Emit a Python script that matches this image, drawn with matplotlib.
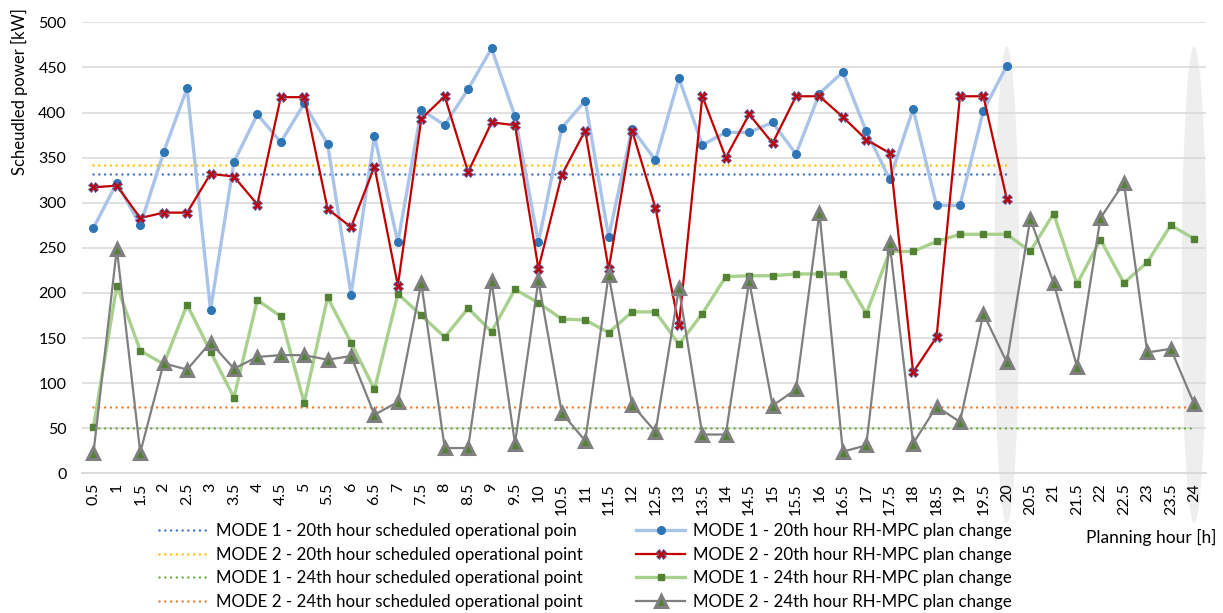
import matplotlib
matplotlib.use("Agg")
import matplotlib.pyplot as plt
from matplotlib.patches import Ellipse
import numpy as np

plt.rcParams['font.family'] = ['Lato', 'DejaVu Sans']

# planning hour categories
hours = ['0.5', '1', '1.5', '2', '2.5', '3', '3.5', '4', '4.5', '5', '5.5', '6',
         '6.5', '7', '7.5', '8', '8.5', '9', '9.5', '10', '10.5', '11', '11.5', '12',
         '12.5', '13', '13.5', '14', '14.5', '15', '15.5', '16', '16.5', '17', '17.5', '18',
         '18.5', '19', '19.5', '20', '20.5', '21', '21.5', '22', '22.5', '23', '23.5', '24']

# scheduled operational points (constant levels)
sched_m1_20 = 332
sched_m2_20 = 342
sched_m1_24 = 50
sched_m2_24 = 74

# RH-MPC plan changes
m1_20 = [272, 322, 275, 356, 427, 181, 345, 398, 367, 410, 365, 198,
         374, 256, 403, 386, 426, 471, 396, 256, 383, 413, 262, 382,
         347, 438, 364, 378, 378, 389, 354, 421, 445, 379, 326, 404,
         297, 297, 402, 452]
m2_20 = [317, 319, 283, 289, 289, 332, 329, 298, 417, 417, 293, 273,
         340, 208, 393, 418, 334, 389, 386, 227, 331, 380, 226, 380,
         294, 164, 418, 350, 398, 366, 418, 418, 395, 370, 355, 112,
         151, 418, 418, 304]
m1_24 = [51, 208, 136, 121, 187, 135, 84, 192, 174, 78, 195, 145,
         93, 199, 175, 151, 183, 157, 204, 189, 171, 170, 156, 179,
         179, 143, 177, 218, 219, 219, 221, 221, 221, 177, 246, 246,
         257, 265, 265, 265, 246, 288, 210, 259, 211, 234, 275, 260]
m2_24 = [22, 249, 23, 122, 115, 145, 116, 129, 131, 131, 126, 130,
         65, 79, 211, 28, 28, 213, 33, 214, 67, 36, 220, 76,
         46, 205, 43, 43, 213, 75, 93, 289, 24, 31, 255, 33,
         74, 57, 177, 123, 282, 211, 118, 283, 322, 134, 138, 77]

highlight = ['20', '24']

x = np.arange(len(hours))
x20 = x[:len(m1_20)]

fig = plt.figure(figsize=(12.23, 6.13), dpi=100)
ax = fig.add_axes([0.0668, 0.2279, 0.9192, 0.7357])

# highlight ellipses at the 20th and 24th hour
for h in highlight:
    i = hours.index(h)
    ax.add_patch(Ellipse((i, 209), 1.07, 528, facecolor='#eeeeee', edgecolor='none',
                         zorder=0.5, clip_on=False))

dot = (0, (0.01, 2.3))
l1, = ax.plot(x20, [sched_m1_20] * len(x20), color='#4472C4', lw=1.8, ls=dot,
              dash_capstyle='round', zorder=2)
l2, = ax.plot(x20, [sched_m2_20] * len(x20), color='#FFC000', lw=1.8, ls=dot,
              dash_capstyle='round', zorder=2)
l3, = ax.plot(x, [sched_m1_24] * len(x), color='#70AD47', lw=1.8, ls=dot,
              dash_capstyle='round', zorder=2)
l4, = ax.plot(x, [sched_m2_24] * len(x), color='#ED7D31', lw=1.8, ls=dot,
              dash_capstyle='round', zorder=2)

p1, = ax.plot(x20, m1_20, color='#A9C4E8', lw=2.4, marker='o', ms=5.5,
              mfc='#2E75B6', mec='#2E75B6', zorder=3)
p3, = ax.plot(x, m1_24, color='#A9D18E', lw=2.4, marker='s', ms=5,
              mfc='#548235', mec='#548235', zorder=3)
p2, = ax.plot(x20, m2_20, color='#C00000', lw=1.6, marker='X', ms=7,
              mfc='#C00000', mec='#5B5EA6', mew=0.6, zorder=4)
p4, = ax.plot(x, m2_24, color='#7F7F7F', lw=1.6, marker='^', ms=9,
              mfc='#548235', mec='#7F7F7F', mew=2.2, zorder=5)

ax.set_xlim(-0.5, len(hours) - 0.5)
ax.set_ylim(0, 500)
ax.set_yticks(range(0, 501, 50))
ax.set_xticks(x)
ax.set_xticklabels(hours, rotation=90, fontsize=11.5)
ax.tick_params(axis='y', labelsize=11.5, length=0, pad=11)
ax.tick_params(axis='x', length=0, pad=7)
ax.grid(axis='y', color='#D9D9D9', lw=1.1, zorder=0)
ax.set_axisbelow(True)
for s in ['top', 'right', 'left']:
    ax.spines[s].set_visible(False)
ax.spines['bottom'].set_color('#D9D9D9')
ax.spines['bottom'].set_linewidth(1.3)

fig.text(19 / 1223, 1 - 92 / 613, 'Scheudled power [kW]', rotation=90,
         ha='center', va='center', fontsize=12)
fig.text(1217 / 1223, 1 - 537 / 613, 'Planning hour [h]', ha='right', va='center',
         fontsize=12.5)

leg_kw = dict(frameon=False, fontsize=12.2, handlelength=2.9, handletextpad=0.45,
              labelspacing=0.45, borderpad=0, borderaxespad=0, loc='upper left')
fig.legend([l1, l2, l3, l4],
           ['MODE 1 - 20th hour scheduled operational poin',
            'MODE 2 - 20th hour scheduled operational point',
            'MODE 1 - 24th hour scheduled operational point',
            'MODE 2 - 24th hour scheduled operational point'],
           bbox_to_anchor=(159 / 1223, 1 - 523 / 613), **leg_kw)
fig.legend([p1, p2, p3, p4],
           ['MODE 1 - 20th hour RH-MPC plan change',
            'MODE 2 - 20th hour RH-MPC plan change',
            'MODE 1 - 24th hour RH-MPC plan change',
            'MODE 2 - 24th hour RH-MPC plan change'],
           bbox_to_anchor=(636 / 1223, 1 - 523 / 613), **leg_kw)

fig.savefig('out.png', dpi=100)
